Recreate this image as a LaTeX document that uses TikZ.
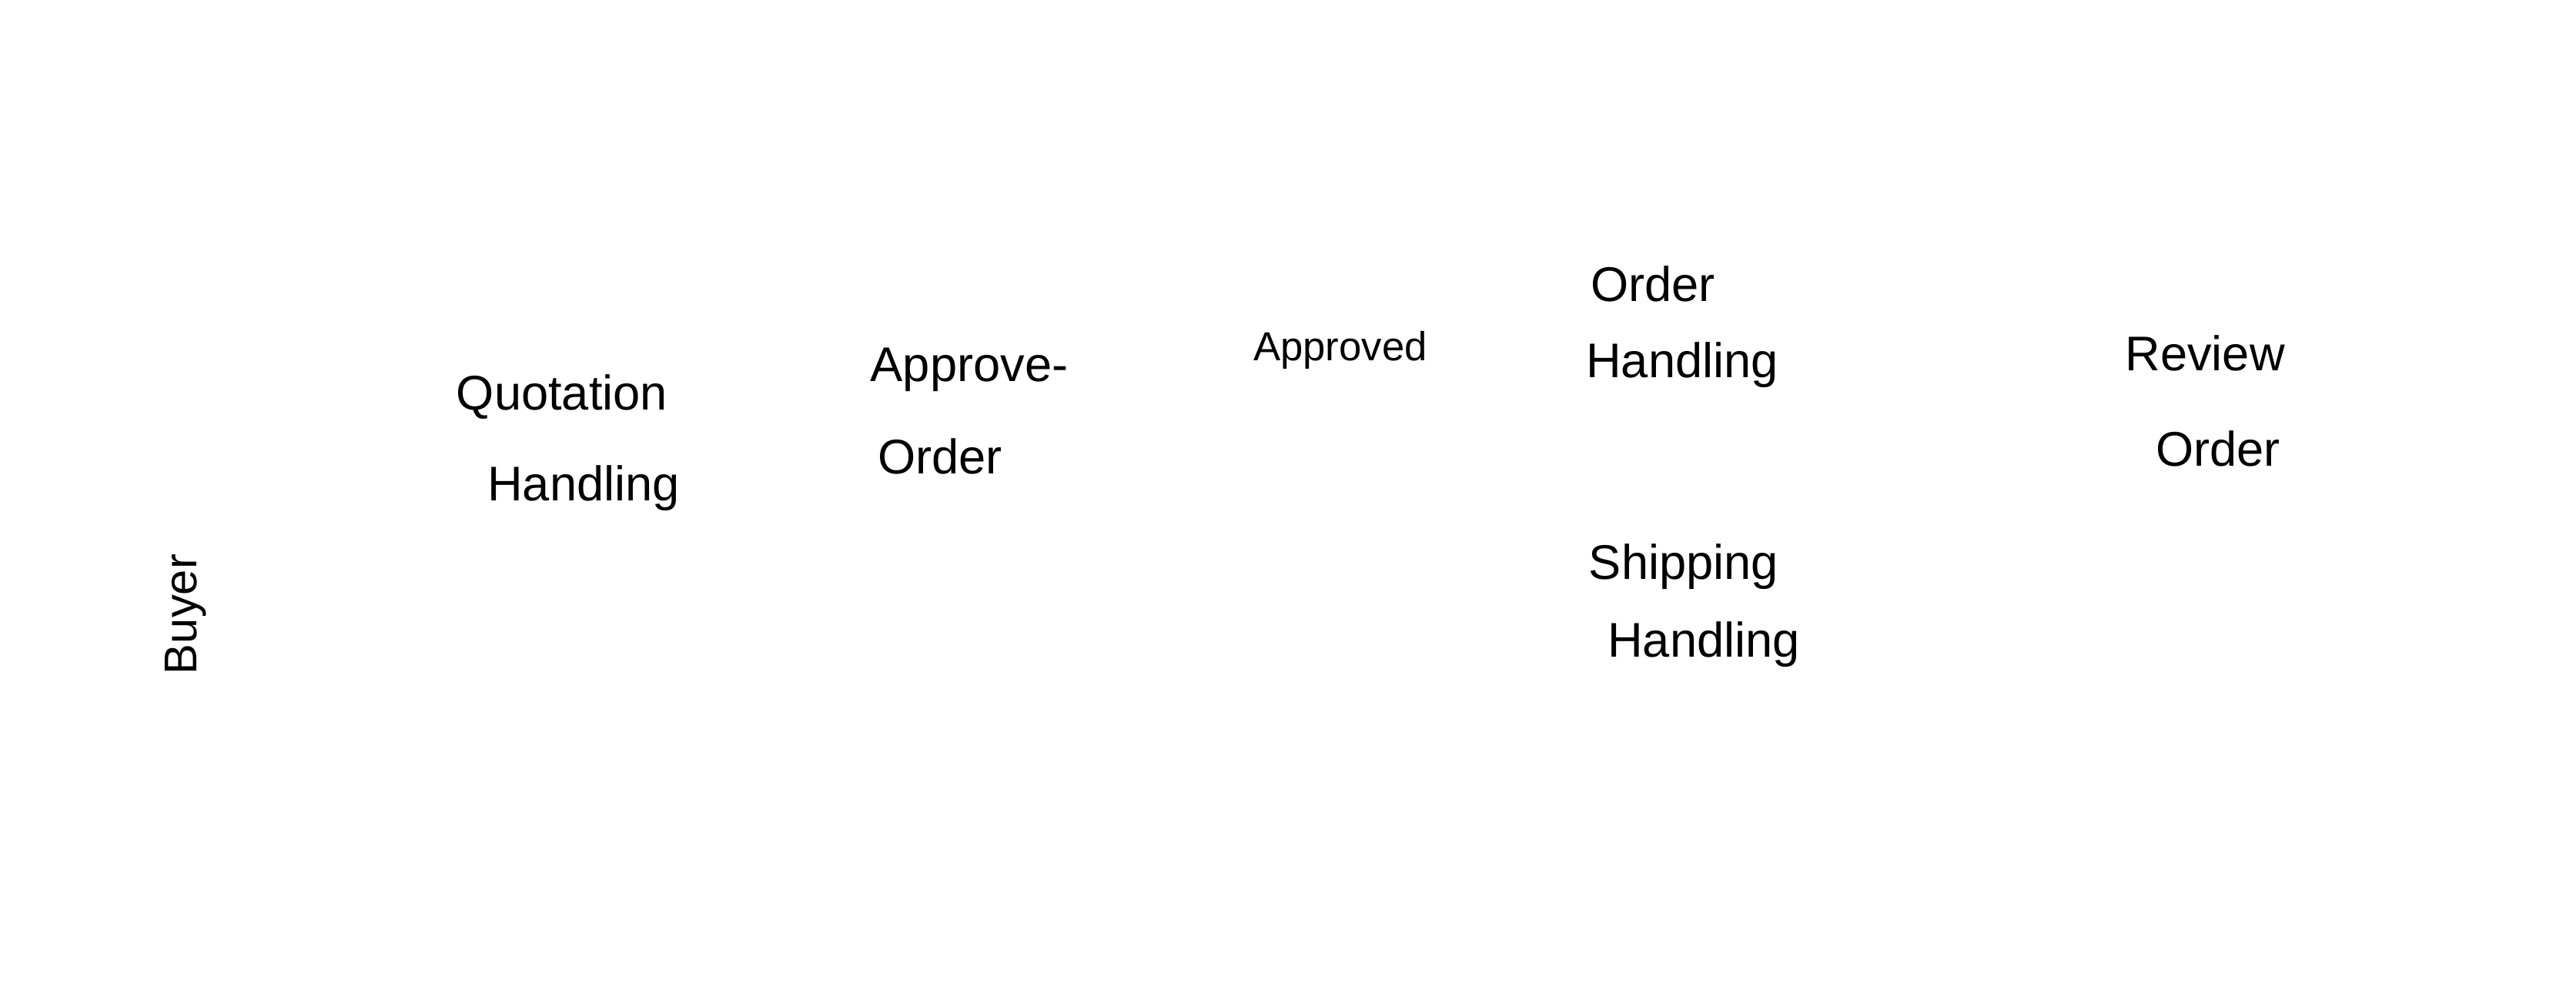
\documentclass[tikz,border=0pt]{standalone}
\usepackage{fontspec}
\setmainfont{Liberation Sans}
\begin{document}
\begin{tikzpicture}[x=1cm,y=1cm]
            \tikzset{lbl/.style={font=\fontsize{18}{21}\selectfont, inner sep=0pt}}
            \useasboundingbox (0, 0) rectangle (33.46, 12.98);

            \node[lbl, rotate=90, font=\fontsize{17}{20}\selectfont] (buyer) at (2.41, 5.0) { Buyer };

            \node[lbl] (qh1) at (7.30, 7.82) { Quotation };
            \node[lbl] (qh2) at (7.58, 6.64) { Handling };

            \node[lbl] (ao1) at (12.59, 8.18) { Approve- };
            \node[lbl] (ao2) at (12.21, 7.05) { Order };

            \node[lbl, font=\fontsize{15}{18}\selectfont] (ap) at (17.41, 8.43) { Approved };

            \node[lbl] (oh1) at (21.47, 9.29) { Order };
            \node[lbl] (oh2) at (21.85, 8.24) { Handling };

            \node[lbl] (sh1) at (21.87, 5.62) { Shipping };
            \node[lbl] (sh2) at (22.13, 4.61) { Handling };

            \node[lbl] (ro1) at (28.64, 8.39) { Review };
            \node[lbl] (ro2) at (28.81, 7.15) { Order };
\end{tikzpicture}
\end{document}
